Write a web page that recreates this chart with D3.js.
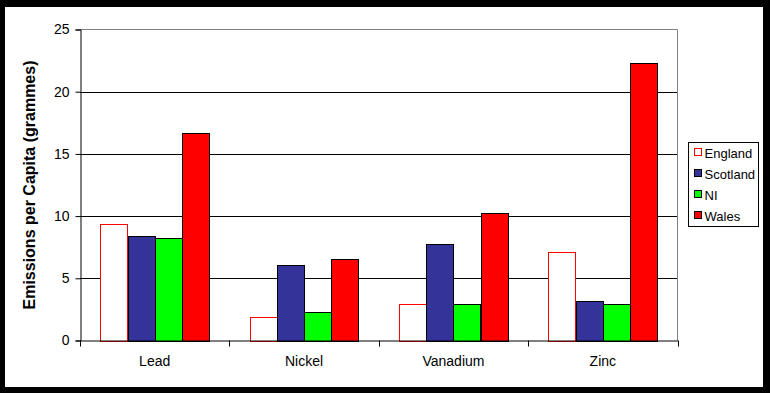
<!doctype html>
<html lang="en">
<head>
  <meta charset="UTF-8">
  <title>Emissions per Capita</title>
  <script src="https://d3js.org/d3.v7.min.js" charset="utf-8"></script>
  <style>
    body { margin: 0; background: #000; }
    svg { display: block; font-family: Arial, "Liberation Sans", sans-serif; }
  </style>
</head>
<body>
  <script>

    var metals = ["Lead", "Nickel", "Vanadium", "Zinc"];
    var regions = ["England", "Scotland", "NI", "Wales"];
    var england = [9.34, 1.85, 2.9, 7.08];
    var scotland = [8.37, 6.03, 7.73, 3.14];
    var ni = [8.2, 2.33, 2.95, 2.9];
    var wales = [16.67, 6.56, 10.27, 22.27];
    var yTicks = [0, 5, 10, 15, 20, 25];

    var fills = ["#ffffff", "#333399", "#00ff00", "#ff0000"];
    var strokes = ["#ff0000", "#000000", "#000000", "#000000"];

    var series = [england, scotland, ni, wales];

    var width = 770, height = 393;
    var plotL = 80, plotR = 677.5, plotT = 29.5, plotB = 340.5;

    var svg = d3.select("body").append("svg")
      .attr("width", width)
      .attr("height", height);

    // black outer frame, white chart area
    svg.append("rect").attr("x", 0).attr("y", 0).attr("width", width).attr("height", height).attr("fill", "#000");
    svg.append("rect").attr("x", 5).attr("y", 7).attr("width", 758).attr("height", 380).attr("fill", "#fff");

    var x0 = d3.scaleBand().domain(metals).range([plotL, plotR]).padding(0);
    // Excel gap width 150%: bar = band / 5.5
    var barW = x0.bandwidth() / 5.5;
    var y = d3.scaleLinear().domain([0, 25]).range([plotB, plotT]);

    // grid lines
    svg.append("g").selectAll("line")
      .data(yTicks.filter(function (d) { return d > 0 && d < 25; }))
      .enter().append("line")
      .attr("x1", plotL).attr("x2", plotR)
      .attr("y1", function (d) { return Math.round(y(d)) + 0.5; })
      .attr("y2", function (d) { return Math.round(y(d)) + 0.5; })
      .attr("stroke", "#000").attr("stroke-width", 1);

    // plot border top / right (grey)
    svg.append("path")
      .attr("d", "M" + plotL + "," + plotT + "H" + plotR + "V" + plotB)
      .attr("fill", "none").attr("stroke", "#808080").attr("stroke-width", 1);

    // bars
    var groups = svg.append("g").selectAll("g")
      .data(metals)
      .enter().append("g");

    groups.selectAll("rect")
      .data(function (m, i) {
        return series.map(function (s, j) { return { m: m, j: j, v: s[i] }; });
      })
      .enter().append("rect")
      .attr("x", function (d) { return Math.round(x0(d.m) + x0.bandwidth() / 2 - 2 * barW + d.j * barW) + 0.5; })
      .attr("y", function (d) { return Math.round(y(d.v)) + 0.5; })
      .attr("width", Math.round(barW))
      .attr("height", function (d) { return Math.round(y(0)) - Math.round(y(d.v)); })
      .attr("fill", function (d) { return fills[d.j]; })
      .attr("stroke", function (d) { return strokes[d.j]; })
      .attr("stroke-width", 1);

    // y axis
    var yAxis = d3.axisLeft(y).tickValues(yTicks).tickSize(5).tickPadding(6);
    var gy = svg.append("g")
      .attr("transform", "translate(" + (plotL + 0.5) + ",0)")
      .call(yAxis);
    gy.select(".domain").attr("stroke", "#000");
    gy.selectAll(".tick line").attr("stroke", "#000");
    gy.selectAll("text").attr("font-size", 14).attr("fill", "#000")
      .attr("font-family", "Arial, 'Liberation Sans', sans-serif");

    // x axis
    var xAxis = d3.axisBottom(x0).tickSize(0).tickPadding(16);
    var gx = svg.append("g")
      .attr("transform", "translate(0," + plotB + ")")
      .call(xAxis);
    gx.select(".domain").attr("stroke", "#000");
    gx.selectAll("text").attr("font-size", 14).attr("fill", "#000")
      .attr("font-family", "Arial, 'Liberation Sans', sans-serif");

    // category boundary ticks
    var bounds = metals.map(function (m) { return x0(m); }).concat([plotR]);
    svg.append("g").selectAll("line")
      .data(bounds)
      .enter().append("line")
      .attr("x1", function (d) { return Math.round(d) + 0.5; })
      .attr("x2", function (d) { return Math.round(d) + 0.5; })
      .attr("y1", plotB).attr("y2", plotB + 6)
      .attr("stroke", "#000");

    // y label
    svg.append("text")
      .attr("transform", "translate(35," + ((plotT + plotB) / 2) + ") rotate(-90)")
      .attr("text-anchor", "middle")
      .attr("font-size", 16)
      .attr("font-weight", "bold")
      .text("Emissions per Capita (grammes)");

    // legend
    var lg = svg.append("g").attr("transform", "translate(688.5,142.5)");
    lg.append("rect").attr("width", 70).attr("height", 84)
      .attr("fill", "#fff").attr("stroke", "#000");
    var items = lg.selectAll("g.item")
      .data(regions)
      .enter().append("g")
      .attr("class", "item")
      .attr("transform", function (d, i) { return "translate(6," + (10 + i * 21) + ")"; });
    items.append("rect")
      .attr("width", 7).attr("height", 7).attr("y", -4)
      .attr("fill", function (d, i) { return fills[i]; })
      .attr("stroke", function (d, i) { return strokes[i]; });
    items.append("text")
      .attr("x", 10).attr("y", 5)
      .attr("font-size", 13)
      .text(function (d) { return d; });

  </script>
</body>
</html>
